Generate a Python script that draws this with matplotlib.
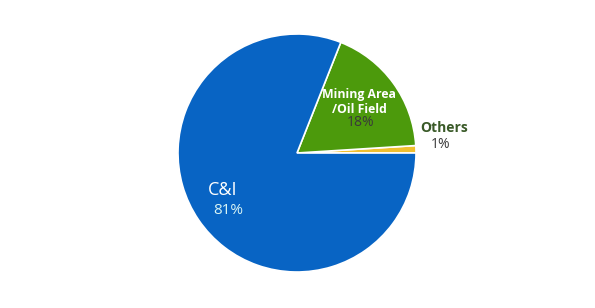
import matplotlib.pyplot as plt

labels = ["Others", "Mining Area\n/Oil Field", "C&I"]
shares = [1, 18, 81]
colors = ["#F0C030", "#4C9A0C", "#0864C4"]

plt.rcParams["font.family"] = ["Open Sans", "DejaVu Sans"]

fig = plt.figure(figsize=(5.95, 3.08), dpi=100)
fig.patch.set_facecolor("white")

# pie centre at (297, 153) px, radius ~119 px
cx, cy, r = 297, 153, 119
ax = fig.add_axes([(cx - r) / 595, (308 - cy - r) / 308, 2 * r / 595, 2 * r / 308])
ax.pie(shares, colors=colors, startangle=0, counterclock=True, radius=1,
       wedgeprops=dict(edgecolor="white", linewidth=1.2))
ax.set_xlim(-1, 1)
ax.set_ylim(-1, 1)
ax.set_aspect("equal")
ax.axis("off")


def px(x, y):
    return (x - cx) / r, (cy - y) / r


ax.text(*px(359, 102), labels[1], ha="center", va="center", color="white",
        fontsize=8.8, fontweight="bold", linespacing=1.2)
ax.text(*px(361, 122), f"{shares[1]}%", ha="center", va="center",
        color="#3A3A3A", fontsize=10)
ax.text(*px(444, 128), labels[0], ha="center", va="center", color="#3A5A28",
        fontsize=10, fontweight="bold")
ax.text(*px(441, 145), f"{shares[0]}%", ha="center", va="center",
        color="#3A3A3A", fontsize=10)
ax.text(*px(223, 190), labels[2], ha="center", va="center", color="white",
        fontsize=13)
ax.text(*px(228, 211), f"{shares[2]}%", ha="center", va="center",
        color="#D8F4F4", fontsize=11)

fig.savefig("out.png", dpi=100)
